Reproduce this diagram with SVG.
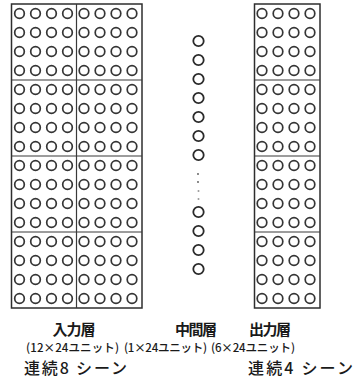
<svg xmlns="http://www.w3.org/2000/svg" xmlns:xlink="http://www.w3.org/1999/xlink" width="355" height="382" viewBox="0 0 355 382">
<style>
.frame{fill:none;stroke:#2e2e2e;stroke-width:1.5}
.div{fill:none;stroke:#3a3a3a;stroke-width:1.2}
.u{fill:none;stroke:#353535;stroke-width:1.7}
.m{fill:none;stroke:#2a2a2a;stroke-width:1.8}
.dot{fill:#555}
text{font-family:"Noto Sans CJK JP","Liberation Sans",sans-serif;fill:#1a1a1a}
.t1{font-size:15px;font-weight:700}
.t2{font-size:11.5px;font-weight:500}
.t3{font-size:16px;font-weight:500}
</style>
<defs>
<g id="blk">
<circle class="u" cx="0" cy="0" r="4.8"/><circle class="u" cx="16" cy="0" r="4.8"/><circle class="u" cx="32" cy="0" r="4.8"/><circle class="u" cx="48" cy="0" r="4.8"/>
<circle class="u" cx="0" cy="19" r="4.8"/><circle class="u" cx="16" cy="19" r="4.8"/><circle class="u" cx="32" cy="19" r="4.8"/><circle class="u" cx="48" cy="19" r="4.8"/>
<circle class="u" cx="0" cy="38" r="4.8"/><circle class="u" cx="16" cy="38" r="4.8"/><circle class="u" cx="32" cy="38" r="4.8"/><circle class="u" cx="48" cy="38" r="4.8"/>
<circle class="u" cx="0" cy="57" r="4.8"/><circle class="u" cx="16" cy="57" r="4.8"/><circle class="u" cx="32" cy="57" r="4.8"/><circle class="u" cx="48" cy="57" r="4.8"/>
</g>
</defs>
<g id="connectors"/>
<g id="input-layer">
<rect class="frame" x="11.5" y="4" width="130.5" height="304"/>
<line class="div" x1="76.5" y1="4" x2="76.5" y2="308"/>
<line class="div" x1="11.5" y1="80" x2="142" y2="80"/>
<line class="div" x1="11.5" y1="156" x2="142" y2="156"/>
<line class="div" x1="11.5" y1="232" x2="142" y2="232"/>
<use xlink:href="#blk" x="19.5" y="13.5"/><use xlink:href="#blk" x="84" y="13.5"/>
<use xlink:href="#blk" x="19.5" y="89.5"/><use xlink:href="#blk" x="84" y="89.5"/>
<use xlink:href="#blk" x="19.5" y="165.5"/><use xlink:href="#blk" x="84" y="165.5"/>
<use xlink:href="#blk" x="19.5" y="241.5"/><use xlink:href="#blk" x="84" y="241.5"/>
<text class="t1" x="74" y="334.5" text-anchor="middle" textLength="43">入力層</text>
<text class="t2" x="72.5" y="351.5" text-anchor="middle" textLength="93">(12×24ユニット)</text>
<text class="t3" x="75.5" y="373.5" text-anchor="middle" textLength="103">連続8 シーン</text>
</g>
<g id="hidden-layer">
<circle class="m" cx="198.5" cy="41" r="5.2"/>
<circle class="m" cx="198.5" cy="60" r="5.2"/>
<circle class="m" cx="198.5" cy="79" r="5.2"/>
<circle class="m" cx="198.5" cy="98" r="5.2"/>
<circle class="m" cx="198.5" cy="117" r="5.2"/>
<circle class="m" cx="198.5" cy="136" r="5.2"/>
<circle class="m" cx="198.5" cy="155" r="5.2"/>
<circle class="dot" cx="198" cy="174" r="0.9"/>
<circle class="dot" cx="198" cy="182" r="0.9"/>
<circle class="dot" cx="198.5" cy="191" r="1" fill-opacity="0.6"/>
<circle class="dot" cx="198.5" cy="199" r="1" fill-opacity="0.6"/>
<circle class="m" cx="198.5" cy="212" r="5.2"/>
<circle class="m" cx="198.5" cy="231" r="5.2"/>
<circle class="m" cx="198.5" cy="250" r="5.2"/>
<circle class="m" cx="198.5" cy="269" r="5.2"/>
<text class="t1" x="196" y="334.5" text-anchor="middle" textLength="42">中間層</text>
<text class="t2" x="165.5" y="351.5" text-anchor="middle" textLength="83">(1×24ユニット)</text>
</g>
<g id="output-layer">
<rect class="frame" x="254.5" y="4" width="65.5" height="304"/>
<line class="div" x1="254.5" y1="80" x2="320" y2="80"/>
<line class="div" x1="254.5" y1="156" x2="320" y2="156"/>
<line class="div" x1="254.5" y1="232" x2="320" y2="232"/>
<use xlink:href="#blk" x="262" y="13.5"/>
<use xlink:href="#blk" x="262" y="89.5"/>
<use xlink:href="#blk" x="262" y="165.5"/>
<use xlink:href="#blk" x="262" y="241.5"/>
<text class="t1" x="270" y="334.5" text-anchor="middle" textLength="42">出力層</text>
<text class="t2" x="253" y="351.5" text-anchor="middle" textLength="84">(6×24ユニット)</text>
<text class="t3" x="300.5" y="373.5" text-anchor="middle" textLength="105">連続4 シーン</text>
</g>
</svg>
